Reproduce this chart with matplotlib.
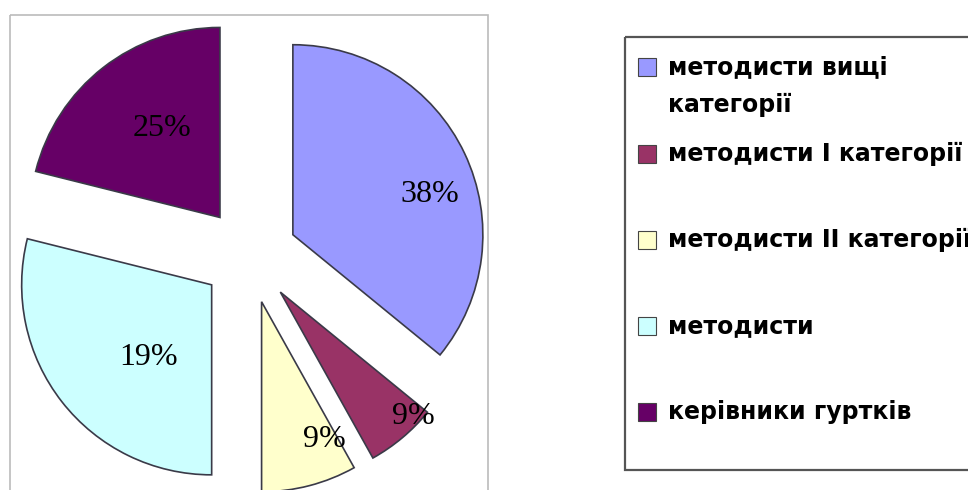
import numpy as np
import matplotlib
matplotlib.use('Agg')
import matplotlib.pyplot as plt
from matplotlib.patches import Rectangle

# data (slice shares as drawn, labels as printed)
categories = ['методисти вищі\nкатегорії', 'методисти І категорії',
              'методисти ІІ категорії', 'методисти', 'керівники гуртків']
shares = [35.9, 6.0, 8.1, 28.9, 21.1]
pct_labels = ['38%', '9%', '9%', '19%', '25%']
colors = ['#9999FF', '#993366', '#FFFFCC', '#CCFFFF', '#660066']

fig = plt.figure(figsize=(9.68, 4.9), dpi=100)
ax = fig.add_axes([0, 0, 1, 1])

# pixel-like coordinates, y pointing down
wedges, _ = ax.pie(shares, colors=colors, startangle=-90, counterclock=True,
                   center=(249.5, 255.3), radius=190, explode=[48] * 5,
                   wedgeprops=dict(edgecolor='#3a3a48', linewidth=1.2))

ax.set_xlim(0, 968)
ax.set_ylim(490, 0)
ax.set_aspect('equal')
ax.axis('off')

# percent labels
label_r = [0.75, 0.96, 0.80, 0.51, 0.56]
label_dang = [9, -7, -10, -11, 5]
for w, txt, fr, da in zip(wedges, pct_labels, label_r, label_dang):
    ang = np.deg2rad((w.theta1 + w.theta2) / 2 + da)
    cx, cy = w.center
    ax.text(cx + fr * w.r * np.cos(ang), cy + fr * w.r * np.sin(ang), txt,
            ha='center', va='center', fontsize=23, family='Liberation Serif',
            color='black')

# frame around the pie area
ax.add_patch(Rectangle((10, 15), 478, 490, fill=False, ec='#BBBBBB', lw=1.2))

# legend box drawn by hand (entries are top aligned in equal slots)
ax.add_patch(Rectangle((625, 37), 360, 433, fill=False, ec='#555555', lw=1.6))
row0, row_step, line_step = 67.5, 86.2, 37
for i, (lab, c) in enumerate(zip(categories, colors)):
    y = row0 + i * row_step
    ax.add_patch(Rectangle((638, y - 9), 18, 18, fc=c, ec='#444444', lw=0.8))
    for k, line in enumerate(lab.split('\n')):
        ax.text(668, y + k * line_step, line, ha='left', va='center',
                fontsize=17, fontweight='bold', family='DejaVu Sans',
                color='black')

plt.savefig('out.png', dpi=100, facecolor='white')
